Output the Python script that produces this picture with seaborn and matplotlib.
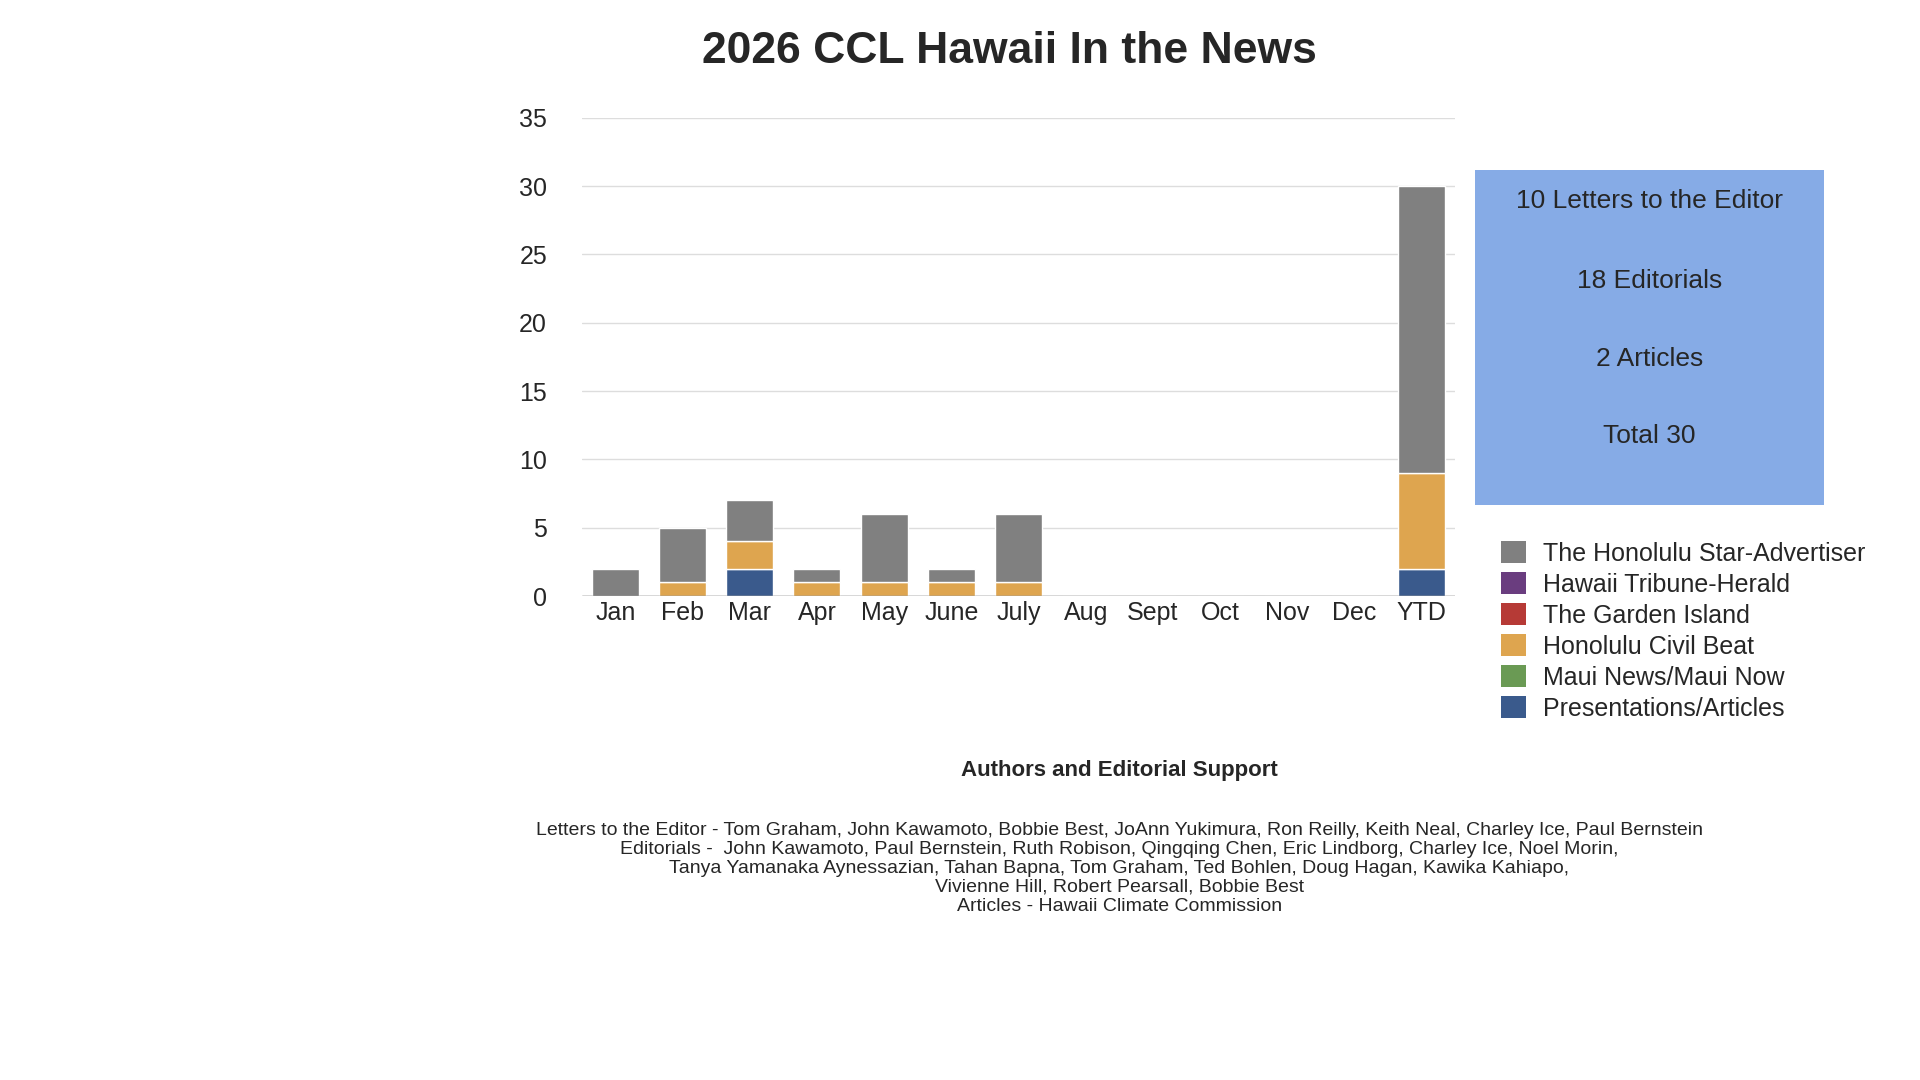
import matplotlib
matplotlib.use("Agg")
import matplotlib.pyplot as plt
import seaborn as sns
import numpy as np
from matplotlib.patches import Patch, Rectangle

months = ["Jan", "Feb", "Mar", "Apr", "May", "June", "July", "Aug", "Sept", "Oct", "Nov", "Dec", "YTD"]
presentations = [0, 0, 2, 0, 0, 0, 0, 0, 0, 0, 0, 0, 2]
civil_beat = [0, 1, 2, 1, 1, 1, 1, 0, 0, 0, 0, 0, 7]
star_advertiser = [2, 4, 3, 1, 5, 1, 5, 0, 0, 0, 0, 0, 21]

legend_names = ["The Honolulu Star-Advertiser", "Hawaii Tribune-Herald", "The Garden Island",
                "Honolulu Civil Beat", "Maui News/Maui Now", "Presentations/Articles"]
legend_colors = ["#808080", "#6a3d7f", "#b63a36", "#dea54f", "#6a9a54", "#3a5a8c"]

sns.set_style("white")
plt.rcParams['font.family'] = ['Liberation Sans', 'DejaVu Sans']

fig = plt.figure(figsize=(19.2, 10.8), dpi=100)
ax = fig.add_axes([0.303, 0.448, 0.455, 0.443])

x = np.arange(len(months))
b1 = np.array(presentations)
b2 = b1 + np.array(civil_beat)
sns.barplot(x=months, y=presentations, color="#3a5a8c", ax=ax, width=0.7, saturation=1)
sns.barplot(x=months, y=civil_beat, bottom=b1, color="#dea54f", ax=ax, width=0.7, saturation=1)
sns.barplot(x=months, y=star_advertiser, bottom=b2, color="#808080", ax=ax, width=0.7, saturation=1)

ax.set_ylim(0, 35)
ax.set_yticks(range(0, 36, 5))
ax.yaxis.grid(True, color="#dddddd", linewidth=1)
ax.set_axisbelow(True)
for s in ax.spines.values():
    s.set_visible(False)
ax.axhline(0, color="#555555", linewidth=1)
ax.tick_params(axis="both", labelsize=18, length=0)
ax.tick_params(axis="y", pad=25)
ax.set_xlim(-0.5, len(months) - 0.5)

fig.text(0.526, 0.952, "2026 CCL Hawaii In the News", ha="center", va="center",
         fontsize=32, fontweight="bold")

fig.patches.append(Rectangle((0.768, 0.532), 0.182, 0.311, transform=fig.transFigure,
                             facecolor="#86abe6", edgecolor="none"))
for txt, yy in [("10 Letters to the Editor", 0.814), ("18 Editorials", 0.740),
                ("2 Articles", 0.668), ("Total 30", 0.596)]:
    fig.text(0.859, yy, txt, ha="center", va="center", fontsize=19)

handles = [Patch(facecolor=c, edgecolor="none") for c in legend_colors]
fig.legend(handles, legend_names, loc="upper left", bbox_to_anchor=(0.770, 0.520),
           frameon=False, fontsize=18, handlelength=1.0, handleheight=1.0,
           labelspacing=0.25, handletextpad=0.7)

fig.text(0.583, 0.287, "Authors and Editorial Support", ha="center", va="center",
         fontsize=16, fontweight="bold")
footer = ("Letters to the Editor - Tom Graham, John Kawamoto, Bobbie Best, JoAnn Yukimura, Ron Reilly, Keith Neal, Charley Ice, Paul Bernstein\n"
          "Editorials -  John Kawamoto, Paul Bernstein, Ruth Robison, Qingqing Chen, Eric Lindborg, Charley Ice, Noel Morin,\n"
          "Tanya Yamanaka Aynessazian, Tahan Bapna, Tom Graham, Ted Bohlen, Doug Hagan, Kawika Kahiapo,\n"
          "Vivienne Hill, Robert Pearsall, Bobbie Best\n"
          "Articles - Hawaii Climate Commission")
fig.text(0.583, 0.196, footer, ha="center", va="center", fontsize=14, linespacing=1.15)

fig.savefig("out.png", dpi=100, facecolor="white")
